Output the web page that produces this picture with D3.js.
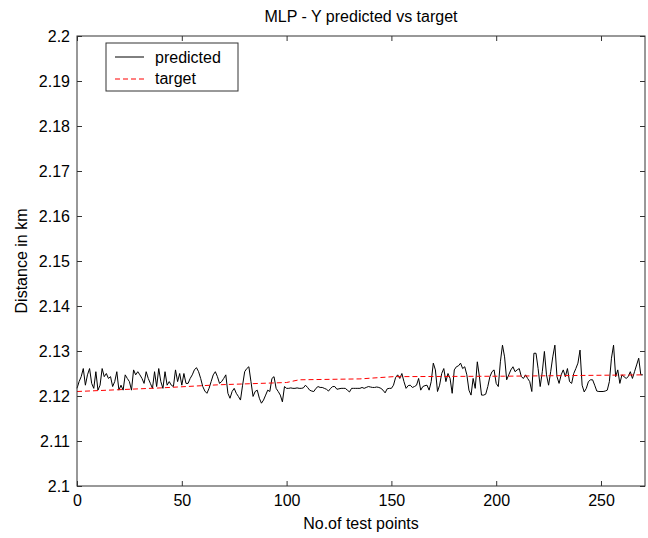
<!DOCTYPE html>
<html>
<head>
<meta charset="utf-8">
<script src="https://cdn.jsdelivr.net/npm/d3@7"></script>
<style>
  body { margin: 0; background: #fff; }
  svg { font-family: "Liberation Sans", Arial, sans-serif; }
</style>
</head>
<body>
<div id="chart"></div>
<script>
// MLP - predicted vs target distance

// predicted distance (km), one value per test point 0..270
const predicted = [
  2.1217, 2.1232, 2.1243, 2.1261, 2.1224, 2.1247, 2.1261, 2.1228, 2.1217, 2.1254,
  2.1213, 2.1224, 2.1261, 2.1243, 2.1250, 2.1239, 2.1243, 2.1221, 2.1232, 2.1254,
  2.1213, 2.1224, 2.1213, 2.1247, 2.1239, 2.1232, 2.1213, 2.1258, 2.1247, 2.1254,
  2.1247, 2.1239, 2.1228, 2.1254, 2.1239, 2.1228, 2.1217, 2.1254, 2.1221, 2.1261,
  2.1232, 2.1217, 2.1254, 2.1224, 2.1232, 2.1224, 2.1221, 2.1258, 2.1232, 2.1250,
  2.1224, 2.1250, 2.1228, 2.1228, 2.1239, 2.1247, 2.1258, 2.1263, 2.1254, 2.1239,
  2.1221, 2.1211, 2.1206, 2.1217, 2.1232, 2.1247, 2.1254, 2.1243, 2.1228, 2.1232,
  2.1239, 2.1247, 2.1206, 2.1195, 2.1210, 2.1217, 2.1206, 2.1199, 2.1191, 2.1224,
  2.1254, 2.1261, 2.1265, 2.1232, 2.1199, 2.1210, 2.1213, 2.1195, 2.1184, 2.1191,
  2.1202, 2.1213, 2.1210, 2.1239, 2.1243, 2.1217, 2.1210, 2.1202, 2.1187, 2.1221,
  2.1217, 2.1217, 2.1218, 2.1217, 2.1217, 2.1218, 2.1217, 2.1217, 2.1218, 2.1224,
  2.1219, 2.1213, 2.1211, 2.1210, 2.1217, 2.1221, 2.1219, 2.1219, 2.1217, 2.1215,
  2.1211, 2.1217, 2.1221, 2.1221, 2.1215, 2.1216, 2.1217, 2.1217, 2.1217, 2.1213,
  2.1209, 2.1217, 2.1217, 2.1217, 2.1217, 2.1217, 2.1219, 2.1217, 2.1219, 2.1221,
  2.1220, 2.1219, 2.1219, 2.1220, 2.1219, 2.1217, 2.1213, 2.1207, 2.1216, 2.1217,
  2.1217, 2.1224, 2.1241, 2.1247, 2.1239, 2.1250, 2.1232, 2.1217, 2.1223, 2.1224,
  2.1219, 2.1221, 2.1224, 2.1239, 2.1213, 2.1221, 2.1223, 2.1224, 2.1213, 2.1232,
  2.1273, 2.1258, 2.1210, 2.1224, 2.1250, 2.1261, 2.1232, 2.1250, 2.1239, 2.1206,
  2.1258, 2.1265, 2.1267, 2.1273, 2.1261, 2.1265, 2.1247, 2.1213, 2.1202, 2.1239,
  2.1217, 2.1276, 2.1243, 2.1202, 2.1202, 2.1204, 2.1221, 2.1243, 2.1254, 2.1258,
  2.1228, 2.1221, 2.1276, 2.1313, 2.1287, 2.1236, 2.1247, 2.1258, 2.1265, 2.1254,
  2.1258, 2.1261, 2.1243, 2.1239, 2.1247, 2.1239, 2.1232, 2.1210, 2.1295, 2.1295,
  2.1261, 2.1221, 2.1254, 2.1299, 2.1247, 2.1224, 2.1254, 2.1287, 2.1313, 2.1243,
  2.1228, 2.1247, 2.1258, 2.1243, 2.1261, 2.1232, 2.1228, 2.1250, 2.1261, 2.1273,
  2.1302, 2.1224, 2.1209, 2.1217, 2.1232, 2.1236, 2.1236, 2.1224, 2.1211, 2.1210,
  2.1210, 2.1210, 2.1211, 2.1213, 2.1232, 2.1284, 2.1313, 2.1243, 2.1258, 2.1228,
  2.1247, 2.1243, 2.1239, 2.1243, 2.1254, 2.1239, 2.1254, 2.1269, 2.1284, 2.1247,
  2.1247
];

// target distance, read at the points where its slope changes
const targetPoints = [0, 20, 40, 68, 100, 106, 135, 151, 204, 270];
const targetValues = [2.1210, 2.1214, 2.1218, 2.1225, 2.1230, 2.1236, 2.1238, 2.1243, 2.1244, 2.1247];

const xTicks = [0, 50, 100, 150, 200, 250];
const yTicks = [2.1, 2.11, 2.12, 2.13, 2.14, 2.15, 2.16, 2.17, 2.18, 2.19, 2.2];
const legendLabels = ["predicted", "target"];

const width = 648;
const height = 538;
const margin = {top: 36, right: 3, bottom: 52, left: 77};
const innerWidth = width - margin.left - margin.right;
const innerHeight = height - margin.top - margin.bottom;
const axisColor = "#333";

const svg = d3.select("#chart")
    .append("svg")
    .attr("width", width)
    .attr("height", height);

const chart = svg.append("g")
    .attr("transform", `translate(${margin.left}, ${margin.top})`);

const xScale = d3.scaleLinear()
    .domain([0, 271])
    .range([0, innerWidth]);

const yScale = d3.scaleLinear()
    .domain([2.1, 2.2])
    .range([innerHeight, 0]);

// lines first, axes drawn on top like matlab
const line = d3.line()
    .x(d => xScale(d[0]))
    .y(d => yScale(d[1]));

chart.append("path")
    .datum(predicted.map((v, i) => [i, v]))
    .attr("fill", "none")
    .attr("stroke", "#000")
    .attr("stroke-width", 1)
    .attr("d", line);

chart.append("path")
    .datum(targetPoints.map((p, i) => [p, targetValues[i]]))
    .attr("fill", "none")
    .attr("stroke", "#ff0000")
    .attr("stroke-width", 1)
    .attr("stroke-dasharray", "5,3")
    .attr("d", line);

// axes, ticks pointing inward on all four sides
const axisStyle = g => {
    g.select(".domain").remove();
    g.selectAll("line").attr("stroke", axisColor);
    g.selectAll("text")
        .style("font-size", "16px")
        .style("fill", "#000")
        .style("font-family", "'Liberation Sans', Arial, sans-serif");
};
const noLabels = g => {
    g.select(".domain").remove();
    g.selectAll("line").attr("stroke", axisColor);
    g.selectAll("text").remove();
};

chart.append("g")
    .attr("transform", `translate(0, ${innerHeight})`)
    .call(d3.axisBottom(xScale).tickValues(xTicks).tickSize(-5).tickPadding(9))
    .call(axisStyle);

chart.append("g")
    .call(d3.axisTop(xScale).tickValues(xTicks).tickSize(-5))
    .call(noLabels);

chart.append("g")
    .call(d3.axisLeft(yScale).tickValues(yTicks).tickSize(-5).tickPadding(7).tickFormat(d => String(d)))
    .call(axisStyle);

chart.append("g")
    .attr("transform", `translate(${innerWidth}, 0)`)
    .call(d3.axisRight(yScale).tickValues(yTicks).tickSize(-5))
    .call(noLabels);

chart.append("rect")
    .attr("x", 0)
    .attr("y", 0)
    .attr("width", innerWidth)
    .attr("height", innerHeight)
    .attr("fill", "none")
    .attr("stroke", axisColor)
    .attr("stroke-width", 1);

// title and axis labels
svg.append("text")
    .attr("x", margin.left + innerWidth / 2)
    .attr("y", 22)
    .attr("text-anchor", "middle")
    .style("font-size", "16px")
    .text("MLP - Y predicted vs target");

svg.append("text")
    .attr("x", margin.left + innerWidth / 2)
    .attr("y", 529)
    .attr("text-anchor", "middle")
    .style("font-size", "16px")
    .text("No.of test points");

svg.append("text")
    .attr("transform", "rotate(-90)")
    .attr("x", -(margin.top + innerHeight / 2))
    .attr("y", 27)
    .attr("text-anchor", "middle")
    .style("font-size", "16px")
    .text("Distance in km");

// legend box
const legend = chart.append("g")
    .attr("transform", "translate(29, 7)");

legend.append("rect")
    .attr("width", 132)
    .attr("height", 48)
    .attr("fill", "#fff")
    .attr("stroke", axisColor);

legendLabels.forEach((label, i) => {
    legend.append("line")
        .attr("x1", 9)
        .attr("x2", 38)
        .attr("y1", 14 + i * 22)
        .attr("y2", 14 + i * 22)
        .attr("stroke", i === 0 ? "#000" : "#ff0000")
        .attr("stroke-dasharray", i === 0 ? null : "5,3");

    legend.append("text")
        .attr("x", 49)
        .attr("y", 20 + i * 21)
        .style("font-size", "16px")
        .text(label);
});
</script>
</body>
</html>
